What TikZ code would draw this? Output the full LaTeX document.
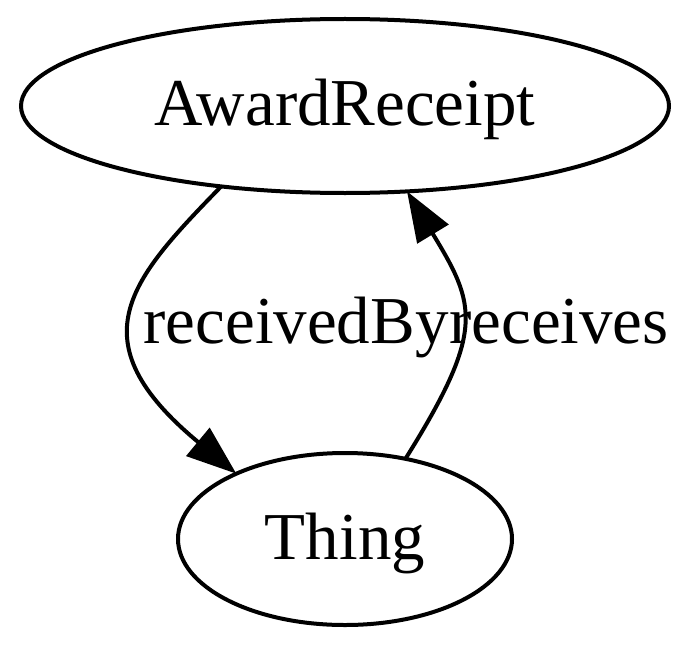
\documentclass[tikz,border=0pt]{standalone}
\usepackage{fontspec}
\setmainfont{Liberation Serif}
\usetikzlibrary{shapes.geometric, arrows.meta}
\tikzstyle{class} = [ellipse, draw, line width = 2pt, inner sep = 0pt, outer sep = 0pt, text height = 24pt, text depth = 4pt, font = \fontsize{33.5}{40}\selectfont]
\tikzstyle{edgelabel} = [anchor = base, inner sep = 0pt, font = \fontsize{33.5}{40}\selectfont]

\begin{document}
\begin{tikzpicture}[x = 0.5pt, y = -0.5pt, >={Triangle[length = 25pt, width = 18pt]}]
        \useasboundingbox (0, 0) rectangle (700, 647);
        \node (Award) at (345, 106) [class, minimum width = 324pt, minimum height = 87pt] {AwardReceipt};
        \node (Thing) at (345, 539) [class, minimum width = 167pt, minimum height = 86pt] {Thing};
        \node (ByLabel) at (296, 343) [edgelabel] {receivedBy};
        \node (RecLabel) at (559, 343) [edgelabel] {receives};
        \draw [->, line width = 2pt] (Award.213) .. controls (130, 280) and (75, 340) .. (Thing.149);
        \draw [->, line width = 2pt] (Thing.53) .. controls (486, 330) and (476, 305) .. (Award.-54);
    \end{tikzpicture}
\end{document}
